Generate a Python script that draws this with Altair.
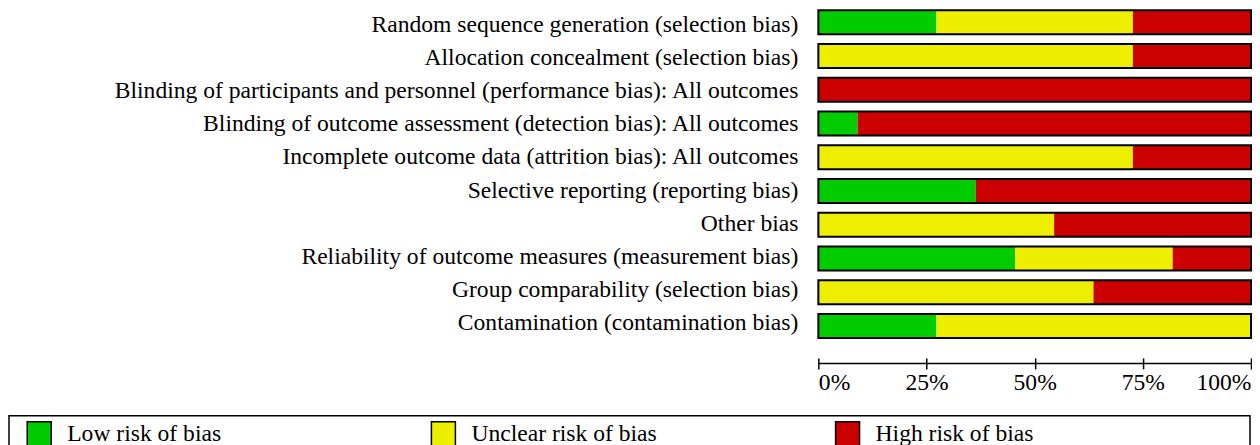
import altair as alt
import pandas as pd

domains = [
    "Random sequence generation (selection bias)",
    "Allocation concealment (selection bias)",
    "Blinding of participants and personnel (performance bias): All outcomes",
    "Blinding of outcome assessment (detection bias): All outcomes",
    "Incomplete outcome data (attrition bias): All outcomes",
    "Selective reporting (reporting bias)",
    "Other bias",
    "Reliability of outcome measures (measurement bias)",
    "Group comparability (selection bias)",
    "Contamination (contamination bias)",
]
low = [27.3, 0, 0, 9.1, 0, 36.4, 0, 45.5, 0, 27.3]
unclear = [45.4, 72.7, 0, 0, 72.7, 0, 54.5, 36.4, 63.6, 72.7]
high = [27.3, 27.3, 100, 90.9, 27.3, 63.6, 45.5, 18.1, 36.4, 0]

levels = ["Low risk of bias", "Unclear risk of bias", "High risk of bias"]
colors = ["#00CC00", "#EEEE00", "#CC0000"]
tick_values = [0, 25, 50, 75, 100]

FONT = "Liberation Serif"
FS = 23.6

rows = []
for i, d in enumerate(domains):
    start = 0.0
    for lvl, v in zip(levels, [low[i], unclear[i], high[i]]):
        if v > 0:
            rows.append({"domain": d, "level": lvl, "start": start, "end": start + v})
        start += v
seg = pd.DataFrame(rows)
frame = pd.DataFrame({"domain": domains, "x0": 0, "x1": 100})

H = 332
BW = 433
NOVIEW = alt.ViewBackground(stroke="transparent", strokeWidth=0)
ysc = alt.Scale(domain=domains, paddingInner=0.29, paddingOuter=0.06)
xsc = alt.Scale(domain=[0, 100], nice=False, zero=False)

segments = alt.Chart(seg).mark_rect(strokeWidth=0).encode(
    y=alt.Y("domain:N", scale=ysc, axis=None, sort=domains),
    x=alt.X("start:Q", scale=xsc,
            axis=alt.Axis(values=tick_values, format="d", labelExpr="datum.value + '%'",
                          offset=18, tickSize=11, tickWidth=1.5, tickColor="black",
                          domain=False, grid=False, labelFont=FONT, labelFontSize=FS,
                          labelColor="black", labelPadding=2, labelFlush=True, title=None)),
    x2="end:Q",
    color=alt.Color("level:N", scale=alt.Scale(domain=levels, range=colors), legend=None),
)
outline = alt.Chart(frame).mark_rect(fillOpacity=0, stroke="black", strokeWidth=2).encode(
    y=alt.Y("domain:N", scale=ysc, axis=None, sort=domains),
    x=alt.X("x0:Q", scale=xsc),
    x2="x1:Q",
)
axis_line = alt.Chart(pd.DataFrame({"a": [0], "b": [100]})).mark_rule(
    color="black", strokeWidth=1.5).encode(
    x=alt.X("a:Q", scale=xsc), x2="b:Q", y=alt.value(H + 23.5))

bars = alt.layer(segments, outline, axis_line).properties(width=BW, height=H, view=NOVIEW)

labels = alt.Chart(frame).mark_text(
    align="right", baseline="middle", font=FONT, fontSize=FS, color="black").encode(
    y=alt.Y("domain:N", scale=ysc, axis=None, sort=domains),
    x=alt.X("x1:Q", scale=alt.Scale(domain=[0, 100]), axis=None),
    text="domain:N",
).properties(width=790, height=H, view=NOVIEW)

top = alt.hconcat(labels, bars, spacing=19)

LW = 1242
leg = pd.DataFrame({"level": levels, "idx": [0, 1, 2]})
lx = alt.Scale(domain=[-0.0748, 2.9957], nice=False, zero=False)
swatch = alt.Chart(leg).mark_square(size=576, stroke="black", strokeWidth=1.5, opacity=1).encode(
    x=alt.X("idx:Q", scale=lx, axis=None),
    color=alt.Color("level:N", scale=alt.Scale(domain=levels, range=colors), legend=None),
)
legtext = alt.Chart(leg).mark_text(
    align="left", baseline="middle", dx=28, font=FONT, fontSize=FS, color="black").encode(
    x=alt.X("idx:Q", scale=lx, axis=None),
    text="level:N",
)
legend_box = alt.layer(swatch, legtext).properties(
    width=LW, height=36,
    view=alt.ViewBackground(stroke="black", strokeWidth=1.5),
)

chart = alt.vconcat(top, legend_box, spacing=20).properties(
    padding={"left": 0, "top": 0, "right": 0, "bottom": 0}
).configure_view(strokeWidth=0).configure(background="white")

chart.save("out.html", embed_options={"renderer": "svg", "actions": False})
